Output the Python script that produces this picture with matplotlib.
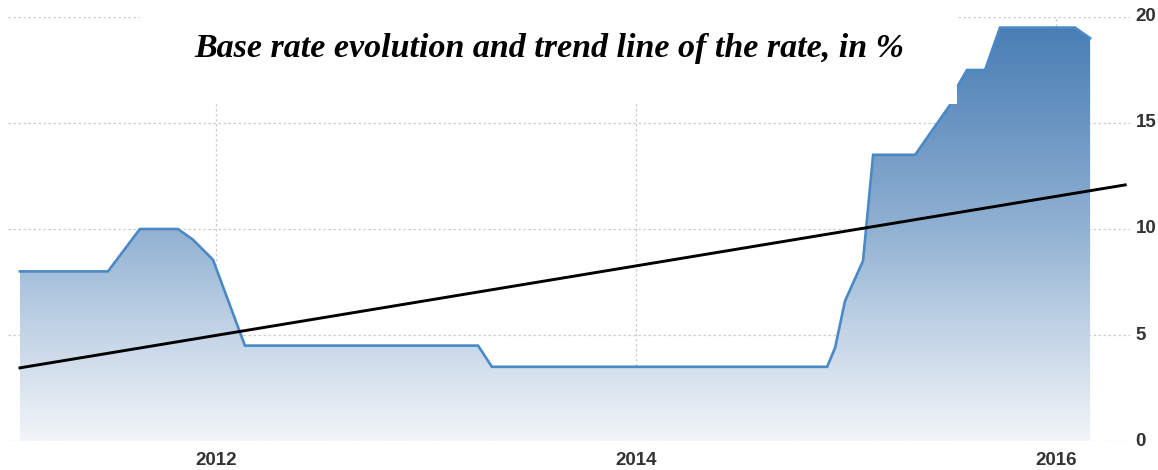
import numpy as np
import matplotlib
matplotlib.use("Agg")
import matplotlib.pyplot as plt
from matplotlib.colors import LinearSegmentedColormap
from matplotlib.patches import Rectangle

# ---- data ----
dates = [2011.067, 2011.486, 2011.638, 2011.819, 2011.890, 2011.986, 2012.138,
         2013.248, 2013.314, 2014.910, 2014.948, 2014.995, 2015.081, 2015.129,
         2015.329, 2015.495, 2015.529, 2015.576, 2015.662, 2015.733, 2016.090,
         2016.162]
rate = [8.0, 8.0, 10.0, 10.0, 9.5, 8.55, 4.5,
        4.5, 3.5, 3.5, 4.4, 6.6, 8.5, 13.5,
        13.5, 15.85, 16.7, 17.5, 17.5, 19.5, 19.5,
        19.0]
trend_dates = [2011.067, 2016.329]
trend_values = [3.45, 12.08]
x_ticks = [2012, 2014, 2016]
x_labels = ["2012", "2014", "2016"]
y_ticks = [0, 5, 10, 15, 20]
y_labels = ["0", "5", "10", "15", "20"]
title = "Base rate evolution and trend line of the rate, in %"

W, H = 1158, 470
fig = plt.figure(figsize=(W / 100, H / 100), dpi=100)
ax = fig.add_axes([8 / W, (H - 441) / H, 1122 / W, 424 / H])

xlim = (2011.010, 2016.352)
ylim = (0, 20)

# gradient fill clipped by area polygon
cmap = LinearSegmentedColormap.from_list(
    "g", [(0.0, "#f2f5f9"), (0.25, "#c4d5e7"), (0.5, "#91b1d2"),
          (0.75, "#6a95c2"), (1.0, "#467cb3")])
grad = np.linspace(0, 1, 256).reshape(-1, 1)
poly = ax.fill_between(dates, rate, 0, facecolor="none", edgecolor="none")
im = ax.imshow(grad, extent=[xlim[0], xlim[1], 0, 20], origin="lower",
               aspect="auto", cmap=cmap, zorder=1)
im.set_clip_path(poly.get_paths()[0], transform=ax.transData)

ax.plot(dates, rate, color="#4a89c6", lw=1.9, zorder=3, solid_joinstyle="miter")
ax.plot(trend_dates, trend_values, color="black", lw=2.1, zorder=4)

ax.set_xlim(*xlim)
ax.set_ylim(*ylim)
ax.set_xticks(x_ticks)
ax.set_xticklabels(x_labels)
ax.set_yticks(y_ticks)
ax.set_yticklabels(y_labels)
ax.yaxis.tick_right()
for s in ax.spines.values():
    s.set_visible(False)
ax.grid(True, color="#cccccc", lw=0.9, linestyle=(0, (2, 2)), zorder=0)
ax.set_axisbelow(True)
ax.tick_params(axis="y", length=0, pad=4, labelcolor="#333333")
ax.tick_params(axis="x", length=0, pad=8, labelcolor="#333333")
for lab in ax.get_xticklabels() + ax.get_yticklabels():
    lab.set_fontfamily("Liberation Sans")
    lab.set_fontweight("bold")
    lab.set_fontsize(13.5)
for lab in ax.get_yticklabels():
    lab.set_verticalalignment("center")

# white box behind the title
fig.patches.append(Rectangle((140 / W, (H - 104) / H), 817 / W, 104 / H,
                             transform=fig.transFigure, facecolor="white",
                             edgecolor="none", zorder=5))
fig.text(549 / W, 1 - 49 / H, title, ha="center", va="center",
         fontsize=24.5, fontweight="bold", fontstyle="italic",
         family="Liberation Serif", zorder=6)

fig.savefig("out.png", dpi=100)
